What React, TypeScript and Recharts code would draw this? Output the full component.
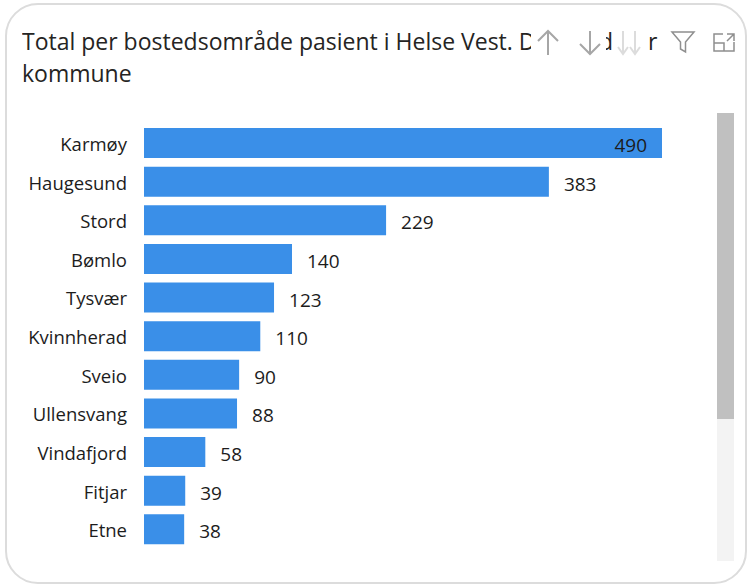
import { BarChart, Bar, XAxis, YAxis, LabelList } from 'recharts';

const kommuner = ['Karmøy', 'Haugesund', 'Stord', 'Bømlo', 'Tysvær', 'Kvinnherad', 'Sveio', 'Ullensvang', 'Vindafjord', 'Fitjar', 'Etne'];
const totals = [490, 383, 229, 140, 123, 110, 90, 88, 58, 39, 38];
const chartData = kommuner.map((name, i) => ({ name, total: totals[i] }));

const font = '"Open Sans", sans-serif';
const maxTotal = 490;

// biggest bar has no room to the right, so its label goes inside
const BarValue = ({ x, y, width, height, value }: any) => {
  const inside = value === maxTotal;
  return (
    <text
      x={inside ? x + width - 15 : x + width + 15}
      y={y + height / 2 + 2}
      textAnchor={inside ? 'end' : 'start'}
      dominantBaseline="central"
      fontFamily={font}
      fontSize={19}
      fill="#1c1c1c"
    >
      {value}
    </text>
  );
};

const TitleBit = ({ left, width, offset = 0, text }: any) => (
  <div style={{ position: 'absolute', left, top: 24, width, height: 34, overflow: 'hidden', whiteSpace: 'nowrap' }}>
    <span style={{ position: 'absolute', left: offset, top: 0, fontFamily: font, fontSize: 23, lineHeight: '34px', color: '#252423' }}>{text}</span>
  </div>
);

const Icons = () => (
  <svg width={756} height={80} style={{ position: 'absolute', left: 0, top: 0 }} fill="none">
    <g stroke="#a6a6a6" strokeWidth={2}>
      <path d="M548 55V31M538 41l10-10 10 10" />
      <path d="M590 31v23M580 44l10 10 10-10" />
    </g>
    <g stroke="#dcdcdc" strokeWidth={2}>
      <path d="M623 31v23M618 47l5 7 5-7" />
      <path d="M635 31v23M630 47l5 7 5-7" />
    </g>
    <path d="M672 32h22l-8.500 10v10l-5 -3v-7z" stroke="#8f8f8f" strokeWidth={1.500} />
    <g stroke="#8f8f8f" strokeWidth={1.500}>
      <path d="M723 34h-9v17h20v-9M714 43h10v8M727 34h7v7M734 34l-7 7" />
    </g>
  </svg>
);

export default function App() {
  return (
    <div style={{ position: 'absolute', left: 0, top: 0, width: 756, height: 584, background: '#fff', overflow: 'hidden' }}>
      <div style={{ position: 'absolute', left: 5, top: 3, width: 738, height: 577, border: '2.500px solid #dcdcdc', borderRadius: 33 }} />
      <TitleBit left={22} width={509} text="Total per bostedsområde pasient i Helse Vest. Data" />
      <TitleBit left={606} width={6} offset={-7} text="d" />
      <TitleBit left={648} width={10} text="r" />
      <div style={{ position: 'absolute', left: 22, top: 56, fontFamily: font, fontSize: 23, lineHeight: '34px', color: '#252423' }}>kommune</div>
      <Icons />
      <div style={{ position: 'absolute', left: 717, top: 113, width: 17, height: 448, background: '#f3f3f3' }} />
      <div style={{ position: 'absolute', left: 717, top: 113, width: 17, height: 306, background: '#c0c0c0' }} />
      <div style={{ position: 'absolute', left: 0, top: 0 }}>
        <BarChart
          width={756}
          height={584}
          layout="vertical"
          data={chartData}
          margin={{ top: 124, right: 94, bottom: 35, left: 8 }}
          barSize={30}
        >
          <XAxis type="number" hide domain={[0, 490]} />
          <YAxis
            type="category"
            dataKey="name"
            width={136}
            axisLine={false}
            tickLine={false}
            tickMargin={11}
            tick={{ fontFamily: font, fontSize: 18.500, fill: '#1c1c1c', dy: 1 }}
            interval={0}
          />
          <Bar dataKey="total" fill="#3a8fe8" isAnimationActive={false}>
            <LabelList dataKey="total" content={<BarValue />} />
          </Bar>
        </BarChart>
      </div>
    </div>
  );
}
